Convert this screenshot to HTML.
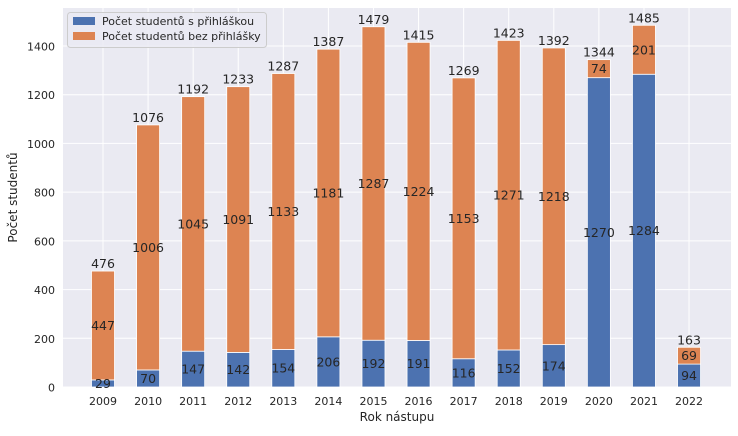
<!DOCTYPE html>
<html><head><meta charset="utf-8"><style>
body{margin:0;background:#fff;font-family:"Liberation Sans","DejaVu Sans",sans-serif}
svg text{font-family:"DejaVu Sans","Liberation Sans",sans-serif;fill:#262626}
</style></head><body>
<svg id="c" width="738" height="431" xmlns="http://www.w3.org/2000/svg"></svg>
<script>
const years=["2009","2010","2011","2012","2013","2014","2015","2016","2017","2018","2019","2020","2021","2022"];
const withApp=[29,70,147,142,154,206,192,191,116,152,174,1270,1284,94];
const withoutApp=[447,1006,1045,1091,1133,1181,1287,1224,1153,1271,1218,74,201,69];
const yTicks=[0,200,400,600,800,1000,1200,1400];
const L=63,R=731,T=8,B=387;
const ys=v=>B-v*(341/1400);
const x0=103,step=45.08,bw=23;
const xs=i=>x0+i*step;
const svg=document.getElementById('c');
const NS='http://www.w3.org/2000/svg';
function mk(t,a,p){const e=document.createElementNS(NS,t);for(const k in a)e.setAttribute(k,a[k]);(p||svg).appendChild(e);return e;}
const bg=mk('rect',{x:L,y:T,width:R-L,height:B-T,fill:'#eaeaf2'});


yTicks.forEach(v=>{
 const g=mk('line',{x1:L,x2:R,y1:ys(v),y2:ys(v),stroke:'#fff','stroke-width':1});
 
 
 const t=mk('text',{x:L-8,y:ys(v)+4.5,'text-anchor':'end','font-size':'11'});t.textContent=v;
 
 
});
years.forEach((y,i)=>{
 const g=mk('line',{x1:xs(i),x2:xs(i),y1:T,y2:B,stroke:'#fff','stroke-width':1});
 
 
 const t=mk('text',{x:xs(i),y:B+18,'text-anchor':'middle','font-size':'11'});t.textContent=y;
 
 
});
years.forEach((y,i)=>{
 const a=withApp[i],b=withoutApp[i],x=xs(i)-bw/2;
 const r1=mk('rect',{x:x,y:ys(a),width:bw,height:ys(0)-ys(a),fill:'#4c72b0',stroke:'#fff','stroke-width':0.8});
 
 
 const r2=mk('rect',{x:x,y:ys(a+b),width:bw,height:ys(a)-ys(a+b),fill:'#dd8452',stroke:'#fff','stroke-width':0.8});
 
 
 const t1=mk('text',{x:xs(i),y:ys(a/2)+4.5,'text-anchor':'middle','font-size':'12.5'});t1.textContent=a;
 
 
 const t2=mk('text',{x:xs(i),y:ys(a+b/2)+4.5,'text-anchor':'middle','font-size':'12.5'});t2.textContent=b;
 
 
 const t3=mk('text',{x:xs(i),y:ys(a+b)-3,'text-anchor':'middle','font-size':'12.5'});t3.textContent=a+b;
 
 
});
const yt=mk('text',{x:17,y:(T+B)/2,'text-anchor':'middle','font-size':'12',transform:`rotate(-90 17 ${(T+B)/2})`});yt.textContent='Počet studentů';


const xt=mk('text',{x:(L+R)/2,y:421,'text-anchor':'middle','font-size':'12'});xt.textContent='Rok nástupu';


const lg=mk('g',{});


mk('rect',{x:67.5,y:12.5,width:199,height:35,rx:3,fill:'#eaeaf2','fill-opacity':0.8,stroke:'#cccccc'},lg);
[['#4c72b0','Počet studentů s přihláškou'],['#dd8452','Počet studentů bez přihlášky']].forEach((d,k)=>{
 const e=mk('g',{},lg);
 
 
 mk('rect',{x:73,y:17+k*15,width:22,height:8,fill:d[0]},e);
 const t=mk('text',{x:102,y:25+k*15,'font-size':'11'},e);t.textContent=d[1];
});
</script>
</body></html>
